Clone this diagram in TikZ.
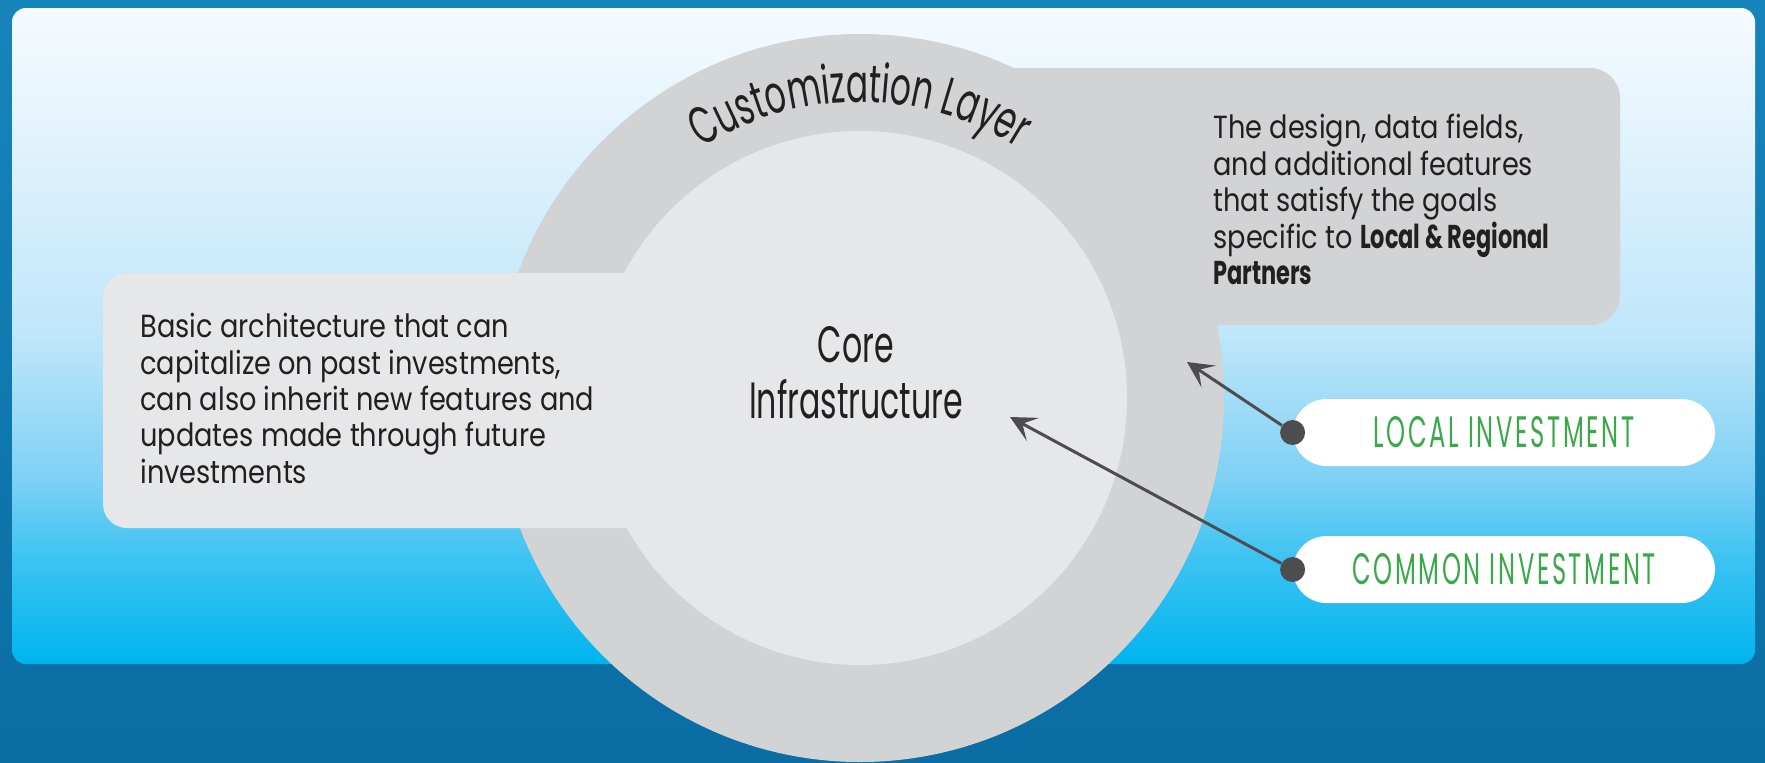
\documentclass[tikz,border=0pt]{standalone}
\usepackage{fontspec}
\setmainfont{Poppins}
\newfontfamily\bodyfont[FakeStretch=0.85]{Poppins}
\newfontfamily\condfont[FakeStretch=0.62]{Poppins}
\newfontfamily\boldcond[FakeStretch=0.68]{Poppins}
\newfontfamily\tagfont[FakeStretch=0.55,LetterSpace=6]{Poppins}
\usetikzlibrary{arrows.meta,decorations.text,shapes.misc}
\definecolor{bgtop}{HTML}{1685BC}
\definecolor{bgbot}{HTML}{0A6DA3}
\definecolor{skybot}{HTML}{00B4EE}
\definecolor{skytwo}{HTML}{3CC3F2}
\definecolor{skythree}{HTML}{7DD0F4}
\definecolor{skyfour}{HTML}{BFE6FA}
\definecolor{skyfive}{HTML}{E8F5FD}
\definecolor{skytop}{HTML}{F5FBFE}
\definecolor{ringgray}{HTML}{D1D3D4}
\definecolor{hubgray}{HTML}{E6E7E8}
\definecolor{ink}{HTML}{231F20}
\definecolor{pin}{HTML}{4D4D4F}
\definecolor{tagreen}{HTML}{39A949}
\pgfdeclareverticalshading{panelshade}{100bp}{color(0bp)=(skybot); color(25bp)=(skybot); color(33bp)=(skytwo); color(39bp)=(skythree); color(50bp)=(skyfour); color(68bp)=(skyfive); color(75bp)=(skytop); color(100bp)=(skytop)}
\begin{document}
\begin{tikzpicture}[x=0.5pt, y=-0.5pt,
  ring/.style={circle, fill=ringgray, inner sep=0pt, minimum size=364pt},
  hub/.style={circle, fill=hubgray, inner sep=0pt, minimum size=267pt},
  note/.style={align=left, anchor=north west, inner sep=0pt, text=ink, font=\bodyfont\fontsize{16}{18.2}\selectfont},
  pill/.style={rounded rectangle, fill=white, minimum width=211pt, minimum height=33.5pt, inner sep=0pt, text=tagreen, font=\tagfont\fontsize{22}{24}\selectfont},
  dot/.style={circle, fill=pin, inner sep=0pt, minimum size=12.5pt},
  pointer/.style={draw=pin, line width=1.5pt, -{Stealth[length=13pt, width=13pt, inset=6pt]}}]
  \useasboundingbox (0,0) rectangle (1765,762);
  \fill[top color=bgtop, bottom color=bgbot] (0,0) rectangle (1765,762);
  \shade[shading=panelshade, rounded corners=7pt] (12,8) rectangle (1755,664);

  \node[ring] (layer) at (860,398) {};
  \fill[ringgray, rounded corners=15pt] (900,68) rectangle (1620,325);
  \node[hub] (core) at (layer.center) {};
  \fill[hubgray, rounded corners=12pt] (103,273) rectangle (780,528);

  \path[decorate, decoration={text along path, text align=center, text color=ink,
    text={|\condfont\fontsize{26.5}{28}\selectfont|Customization Layer}}]
    (layer.center) ++(-140:296) arc[start angle=-140, end angle=-40, radius=296];
  \node[font=\condfont\fontsize{25.5}{28}\selectfont, text=ink, align=center, inner sep=0pt] (coretext) at (856,373) {Core\\Infrastructure};

  \node[note] (basictext) at (140,313) {Basic architecture that can\\capitalize on past investments,\\can also inherit new features and\\updates made through future\\investments};
  \node[note] (customtext) at (1213,114) {The design, data fields,\\and additional features\\that satisfy the goals\\specific to {\boldcond\bfseries\fontsize{16.5}{18.2}\selectfont Local \& Regional}\\{\boldcond\bfseries\fontsize{16.5}{18.2}\selectfont Partners}};

  \node[pill] (local) at (1504,432.5) {LOCAL INVESTMENT};
  \node[pill] (common) at (1504,569.5) {COMMON INVESTMENT};
  \node[dot] (localdot) at (local.west) {};
  \node[dot] (commondot) at (common.west) {};
  \coordinate (localtip) at (1187,362);
  \coordinate (commontip) at (1010,417);
  \draw[pointer] (localdot) -- (localtip);
  \draw[pointer] (commondot) -- (commontip);
\end{tikzpicture}
\end{document}
